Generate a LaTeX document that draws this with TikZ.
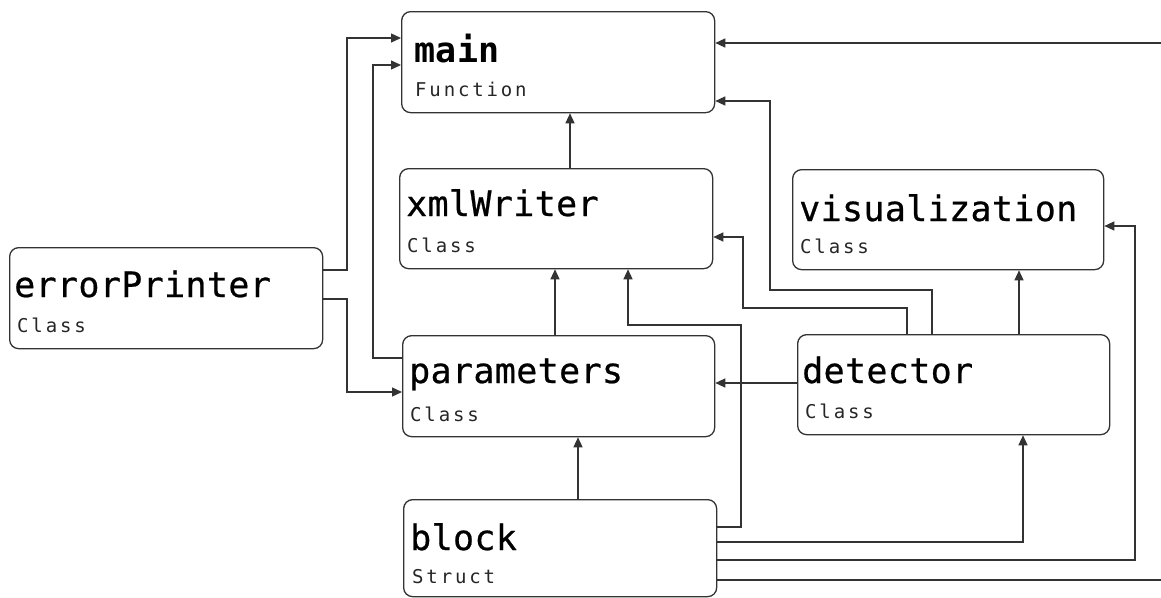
\documentclass[tikz,border=0pt]{standalone}
\usepackage{fontspec}
\usetikzlibrary{arrows.meta}
\newfontfamily\titlefam[LetterSpace=1,FakeBold=0.6]{DejaVu Sans Mono}
\newfontfamily\mainfam[LetterSpace=1]{DejaVu Sans Mono Bold}
\newfontfamily\subfam[LetterSpace=15]{DejaVu Sans Mono}
\definecolor{linec}{HTML}{333333}
\tikzset{
  box/.style={draw=linec, line width=1.3pt, rounded corners=9pt, anchor=north west, inner sep=0pt},
  ttl/.style={anchor=base west, inner sep=0pt, font=\titlefam\fontsize{35}{38}\selectfont},
  sub/.style={anchor=base west, inner sep=0pt, font=\subfam\fontsize{19}{21}\selectfont, text=black!85},
  arr/.style={draw=linec, line width=1.3pt, -{Triangle[length=10pt,width=9pt]}},
  conn/.style={draw=linec, line width=1.3pt}
}
\begin{document}
\begin{tikzpicture}[x=1pt,y=-1pt]
\useasboundingbox (0,0) rectangle (1161,597);
\fill[white] (0,0) rectangle (1161,597);
\clip (0,0) rectangle (1161,597);
% boxes
\node[box, minimum width=313pt, minimum height=101pt] (main) at (401,11) {};
\node[box, minimum width=313pt, minimum height=100pt] (xml) at (399,168) {};
\node[box, minimum width=311pt, minimum height=100pt] (vis) at (792,169) {};
\node[box, minimum width=313pt, minimum height=101pt] (errp) at (9,247) {};
\node[box, minimum width=312pt, minimum height=101pt] (param) at (402,335) {};
\node[box, minimum width=312pt, minimum height=100pt] (det) at (797,334) {};
\node[box, minimum width=313pt, minimum height=97pt] (block) at (403,499) {};
% texts
\node[ttl, font=\mainfam\fontsize{35}{38}\selectfont] (main-t) at (414,62) {main};
\node[sub] (main-s) at (415,96) {Function};
\node[ttl] (xml-t) at (406,216) {xmlWriter};
\node[sub] (xml-s) at (407,252) {Class};
\node[ttl] (vis-t) at (799,221) {visualization};
\node[sub] (vis-s) at (800,253) {Class};
\node[ttl] (errp-t) at (14,297) {errorPrinter};
\node[sub] (errp-s) at (17,332) {Class};
\node[ttl] (param-t) at (409,383) {parameters};
\node[sub] (param-s) at (410,421) {Class};
\node[ttl] (det-t) at (802,383) {detector};
\node[sub] (det-s) at (805,418) {Class};
\node[ttl] (block-t) at (410,550) {block};
\node[sub] (block-s) at (412,583) {Struct};
% connectors
\draw[arr] (570,0 |- xml.north) -- (570,0 |- main.south);
\draw[arr] (errp.east |- 0,270) -| (347,38) -- (main.west |- 0,38);
\draw[arr] (param.west |- 0,358) -| (373,65) -- (main.west |- 0,65);
\draw[arr] (errp.east |- 0,299) -| (347,392) -- (param.west |- 0,392);
\draw[arr] (555,0 |- param.north) -- (555,0 |- xml.south);
\draw[arr] (block.east |- 0,527) -| (741,325) -| (628,0 |- xml.south);
\draw[arr] (932,0 |- det.north) |- (770,290) |- (main.east |- 0,101);
\draw[arr] (907,0 |- det.north) |- (743,308) |- (xml.east |- 0,237);
\draw[arr] (1019,0 |- det.north) -- (1019,0 |- vis.south);
\draw[arr] (det.west |- 0,383) -- (param.east |- 0,383);
\draw[arr] (578,0 |- block.north) -- (578,0 |- param.south);
\draw[arr] (block.east |- 0,542) -| (1023,0 |- det.south);
\draw[arr] (block.east |- 0,560) -| (1135,226) -- (vis.east |- 0,226);
\draw[arr] (block.east |- 0,580) -- (1180,580) -- (1180,43) -- (main.east |- 0,43);
\end{tikzpicture}
\end{document}
